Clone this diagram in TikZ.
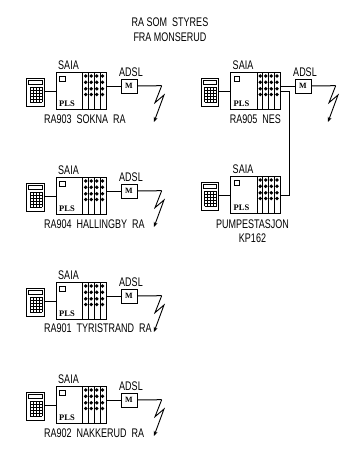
\documentclass[tikz,border=0pt]{standalone}
\usepackage{fontspec}
\setmainfont[FakeStretch=0.72]{Liberation Sans}
\newfontfamily\plsfont{Liberation Serif}
\usetikzlibrary{arrows.meta}

\begin{document}
\begin{tikzpicture}[
          x=1pt, y=-1pt,
          box/.style={draw=black, line width=1pt, inner sep=0pt},
          calc/.style={box, minimum width=17.5pt, minimum height=28pt},
          plc/.style={box, minimum width=50pt, minimum height=36.5pt},
          modem/.style={box, minimum width=16pt, minimum height=14pt, font=\fontsize{8}{8}\plsfont\bfseries},
          lbl/.style={inner sep=0pt, font=\fontsize{12.5}{14}\selectfont, align=center},
          plslbl/.style={inner sep=0pt, font=\fontsize{8.5}{8}\plsfont\bfseries},
          wire/.style={line width=1pt},
          bolt/.style={line width=0.9pt, -{Stealth[length=5pt,width=4pt]}}
        ]
        \useasboundingbox (0,0) rectangle (351,450);

        \node[lbl, font=\fontsize{12.5}{15.5}\selectfont] (title) at (170,29.5) {RA SOM\ \ STYRES\\FRA MONSERUD};

        % panels: number / x shift / y shift
        \foreach \n/\sx/\sy in {1/0/0, 2/0/105, 3/0/210, 4/0/314, 5/174.5/0, 6/174.5/104} {
          \begin{scope}[shift={(\sx,\sy)}]
            \node[calc] (calc\n) at (35.4,92) {};
            \node[plc] (plc\n) at (81,91) {};
            \node[lbl] (saia\n) at (68.5,65) {SAIA};
            \draw[wire] (calc\n.east |- 0,91) -- (plc\n.west |- 0,91);
            % display and keys
            \draw[line width=0.6pt] (28.7,80.7) rectangle (42.2,84.5);
            \draw[line width=0.7pt, step=3pt] (30,87) grid (42,102);
            % panel
            \draw[line width=0.7pt] (59.5,76) rectangle (65,81);
            \node[plslbl] (pls\n) at (67,103.5) {PLS};
            \foreach \dx in {82.7,88.3,94,100} {
              \draw[line width=0.8pt] (\dx,72.7) -- (\dx,109.3);
            }
            \foreach \dx in {85.7,91.2,96.8,102.5} {
              \foreach \dy in {76,82.3,88.8,94.5} {
                \fill (\dx,\dy) circle (1.9pt);
              }
            }
          \end{scope}
        }
        \node[lbl, anchor=west] (name1) at (44,119.5) {RA903\ \ SOKNA\ \ RA};
        \node[lbl, anchor=west] (name2) at (44,224.5) {RA904\ \ HALLINGBY\ \ RA};
        \node[lbl, anchor=west] (name3) at (44,328.5) {RA901\ \ TYRISTRAND\ \ RA};
        \node[lbl, anchor=west] (name4) at (44,433) {RA902\ \ NAKKERUD\ \ RA};
        \node[lbl] (name5) at (255.5,119.5) {RA905\ \ NES};
        \node[lbl] (name6) at (252.5,231) {PUMPESTASJON\\KP162};

        % modems and radio links
        \foreach \n/\sx/\sy in {1/0/0, 2/0/105, 3/0/210, 4/0/314, 5/174/0} {
          \begin{scope}[shift={(\sx,\sy)}]
            \node[modem] (modem\n) at (129,86) {M};
            \node[lbl] (adsl\n) at (131,72) {ADSL};
            \coordinate (ant\n) at (161.7,85.7);
            \draw[wire] (plc\n.east |- modem\n) -- (modem\n);
            \draw[wire] (modem\n) -- (ant\n);
            \draw[bolt] (ant\n) -- (155,102.7) -- (164,95) -- (154,122);
          \end{scope}
        }

        % link between the two right panels
        \coordinate (bend5) at (289,91.3);
        \coordinate (bend6) at (289,195);
        \draw[wire] (plc5.east |- bend5) -- (bend5) -- (bend6) -- (plc6.east |- bend6);
      \end{tikzpicture}
\end{document}
